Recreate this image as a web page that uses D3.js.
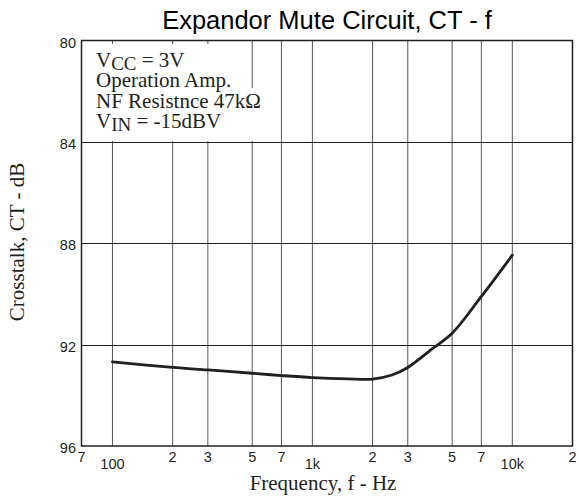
<!DOCTYPE html>
<html><head><meta charset="utf-8">
<script src="https://cdn.jsdelivr.net/npm/d3@7"></script>
<style>body{margin:0;background:#fff} svg{display:block}</style>
</head><body><svg id="c" width="579" height="499"></svg>
<script>
const freqs = [100, 200, 300, 500, 700, 1000, 1500, 2000, 2500, 3000, 4000, 5000, 7000, 10000];
const crosstalk = [92.68, 92.9, 93.0, 93.13, 93.22, 93.3, 93.35, 93.36, 93.2, 92.9, 92.15, 91.55, 90.1, 88.47];
const xGridValues = [100, 200, 300, 500, 700, 1000, 2000, 3000, 5000, 7000, 10000];
const xTickValues = [70, 100, 200, 300, 500, 700, 1000, 2000, 3000, 5000, 7000, 10000, 20000];
const xTickLabels = ["7", "100", "2", "3", "5", "7", "1k", "2", "3", "5", "7", "10k", "2"];
const yTickValues = [80, 84, 88, 92, 96];
const yTickLabels = ["80", "84", "88", "92", "96"];
const noteLines = [
  ["V", "CC", " = 3V"],
  ["Operation Amp.", "", ""],
  ["NF Resistnce 47k\u03A9", "", ""],
  ["V", "IN", " = -15dBV"]
];
const titleText = "Expandor Mute Circuit, CT - f";
const xTitle = "Frequency, f - Hz";
const yTitle = "Crosstalk, CT - dB";

const svg = d3.select("#c");
const L = 81.5, R = 572.5, T = 40.5, B = 446;
const x = d3.scaleLog().domain([70, 20000]).range([L, R]);
const y = d3.scaleLinear().domain([80, 96]).range([T, B]);
const ink = "#231f20";

// grid
svg.append("g").selectAll("line").data(xGridValues).join("line")
  .attr("x1", d => x(d)).attr("x2", d => x(d))
  .attr("y1", T).attr("y2", B)
  .attr("stroke", "#555").attr("stroke-width", 1);
svg.append("g").selectAll("line").data(yTickValues.slice(1, -1)).join("line")
  .attr("x1", L).attr("x2", R)
  .attr("y1", d => Math.round(y(d)) + 0.5).attr("y2", d => Math.round(y(d)) + 0.5)
  .attr("stroke", ink).attr("stroke-width", 1);

// note box background (covers grid)
svg.append("rect").attr("x", L + 1).attr("y", 44).attr("width", 240 - L).attr("height", y(84) - 44 - 1).attr("fill", "#fff");
svg.append("rect").attr("x", L + 1).attr("y", 88).attr("width", 268 - L).attr("height", y(84) - 88 - 1).attr("fill", "#fff");
svg.append("line").attr("x1", L).attr("x2", R)
  .attr("y1", Math.round(y(84)) + 0.5).attr("y2", Math.round(y(84)) + 0.5)
  .attr("stroke", ink).attr("stroke-width", 1);

// frame
svg.append("rect").attr("x", L).attr("y", T).attr("width", R - L).attr("height", B - T)
  .attr("fill", "none").attr("stroke", ink).attr("stroke-width", 1.5);

// curve
const pts = freqs.map((f, i) => [x(f), y(crosstalk[i])]);
svg.append("path").attr("d", d3.line().curve(d3.curveCatmullRom.alpha(0.5))(pts))
  .attr("fill", "none").attr("stroke", ink).attr("stroke-width", 2.8).attr("stroke-linecap", "round");

// x tick labels
svg.append("g").selectAll("text").data(xTickValues).join("text")
  .attr("x", d => x(d))
  .attr("y", (d, i) => /^(100|1k|10k)$/.test(xTickLabels[i]) ? 468.5 : 462)
  .attr("text-anchor", "middle")
  .attr("font-family", "Liberation Sans, Arial, sans-serif").attr("font-size", 14.5)
  .attr("fill", ink)
  .text((d, i) => xTickLabels[i]);

// y tick labels
svg.append("g").selectAll("text").data(yTickValues).join("text")
  .attr("x", 76).attr("y", d => y(d) + 7)
  .attr("text-anchor", "end")
  .attr("font-family", "Liberation Sans, Arial, sans-serif").attr("font-size", 14.5)
  .attr("fill", ink)
  .text((d, i) => yTickLabels[i]);

// title
svg.append("text").attr("x", (L + R) / 2).attr("y", 29).attr("text-anchor", "middle")
  .attr("font-family", "Liberation Sans, Arial, sans-serif").attr("font-size", 25.5)
  .attr("fill", "#000").text(titleText);

// axis titles
svg.append("text").attr("x", 323).attr("y", 490).attr("text-anchor", "middle")
  .attr("font-family", "Liberation Serif, Times New Roman, serif").attr("font-size", 21)
  .attr("fill", ink).text(xTitle);
svg.append("text").attr("transform", "translate(24,242) rotate(-90)").attr("text-anchor", "middle")
  .attr("font-family", "Liberation Serif, Times New Roman, serif").attr("font-size", 21)
  .attr("fill", ink).text(yTitle);

// notes
const baselines = [66.7, 87, 107.5, 128];
noteLines.forEach((ln, i) => {
  const t = svg.append("text").attr("x", 96).attr("y", baselines[i])
    .attr("font-family", "Liberation Serif, Times New Roman, serif").attr("font-size", 21)
    .attr("fill", ink);
  t.append("tspan").text(ln[0]);
  if (ln[1]) {
    t.append("tspan").attr("dy", 3.2).attr("font-size", 19).text(ln[1]);
    t.append("tspan").attr("dy", -3.2).text(ln[2]);
  }
});
</script></body></html>
